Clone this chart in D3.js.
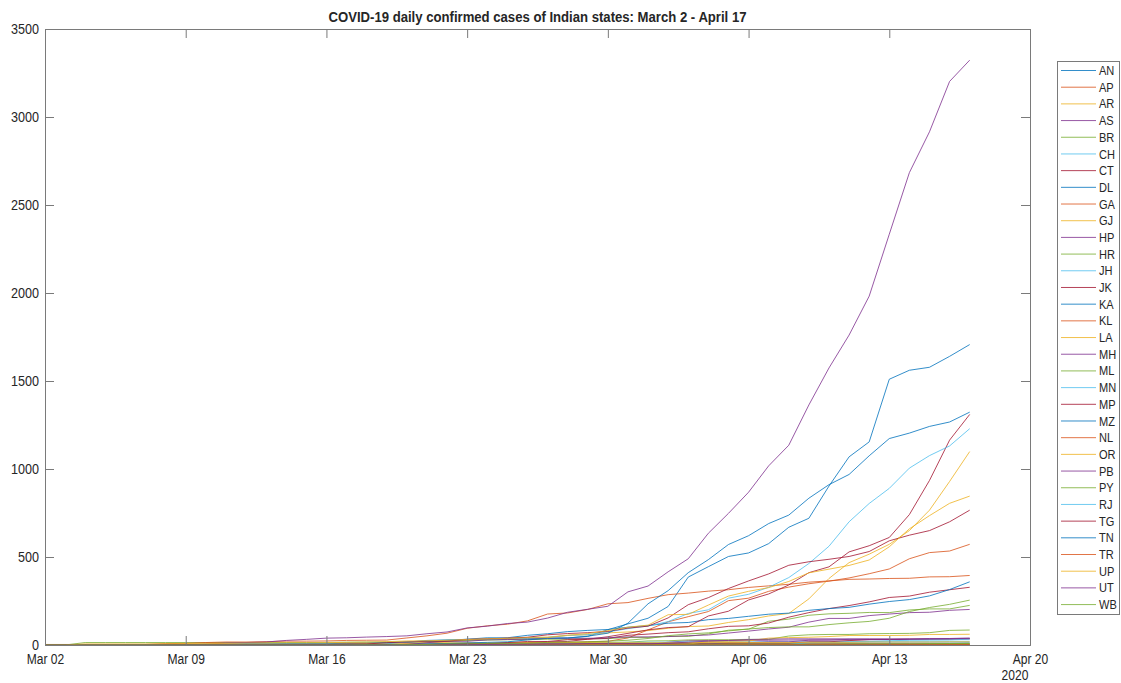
<!DOCTYPE html>
<html><head><meta charset="utf-8">
<script src="https://cdn.jsdelivr.net/npm/d3@7"></script>
<style>
html,body{margin:0;padding:0;background:#fff;}
svg{display:block;}
text{font-family:"Liberation Sans Narrow","Arial Narrow","Liberation Sans",Arial,sans-serif;fill:#262626;}
</style></head><body>
<svg id="chart" width="1121" height="683"></svg>
<script>
// ---- data (cumulative confirmed cases, Mar 2 – Apr 17, 2020) ----
const startDate = "2020-03-02", endDate = "2020-04-17";
const states = ["AN","AP","AR","AS","BR","CH","CT","DL","GA","GJ","HP","HR","JH","JK","KA","KL","LA","MH","ML","MN","MP","MZ","NL","OR","PB","PY","RJ","TG","TN","TR","UP","UT","WB"];
const yTicks = [0,500,1000,1500,2000,2500,3000,3500];
const AN = [0,0,0,0,0,0,0, 0,0,0,0,0,0,0, 0,0,0,0,0,0,0, 0,0,0,1,6,9,9, 10,10,10,10,10,10,10, 10,10,10,11,11,11,11, 11,11,11,11,12];
const AP = [0,0,0,0,0,0,0, 0,0,0,1,1,1,1, 1,1,1,2,3,3,5, 7,8,9,11,13,14,19, 21,40,86,132,161,190,252, 266,305,329,348,363,381,405, 432,490,525,534,572];
const AR = [0,0,0,0,0,0,0, 0,0,0,0,0,0,0, 0,0,0,0,0,0,0, 0,0,0,0,0,0,0, 0,0,0,1,1,1,1, 1,1,1,1,1,1,1, 1,1,1,1,1];
const AS = [0,0,0,0,0,0,0, 0,0,0,0,0,0,0, 0,0,0,0,0,0,0, 0,0,0,0,0,0,0, 0,1,1,16,24,26,26, 26,27,28,29,29,29,30, 31,32,33,34,35];
const BR = [0,0,0,0,0,0,0, 0,0,0,0,0,0,0, 0,0,0,0,0,0,2, 2,3,4,6,9,11,15, 15,16,23,24,29,30,30, 32,32,51,58,60,60,64, 65,66,70,83,85];
const CH = [0,0,0,0,0,0,0, 0,0,0,0,0,0,0, 0,0,0,1,1,5,6, 7,7,7,7,8,8,8, 13,15,16,16,18,18,18, 18,18,18,18,19,19,21, 21,21,21,21,21];
const CT = [0,0,0,0,0,0,0, 0,0,0,0,0,0,0, 0,0,1,1,1,1,1, 1,1,1,6,6,6,7, 8,9,9,9,10,10,10, 10,10,10,18,18,25,31, 31,33,33,33,36];
const DL = [1,1,1,2,3,3,3, 4,4,5,6,6,7,7, 7,8,10,12,17,26,29, 30,31,35,36,39,40,49, 87,120,152,219,386,445,503, 523,576,669,720,903,1069,1154, 1510,1561,1578,1640,1707];
const GA = [0,0,0,0,0,0,0, 0,0,0,0,0,0,0, 0,0,0,0,0,0,0, 0,0,3,3,3,3,5, 5,5,5,5,6,7,7, 7,7,7,7,7,7,7, 7,7,7,7,7];
const GJ = [0,0,0,0,0,0,0, 0,0,0,0,0,0,0, 0,0,0,2,5,14,18, 29,33,38,43,45,55,58, 69,74,82,95,105,108,128, 144,165,179,262,378,468,516, 572,650,766,929,1099];
const HP = [0,0,0,0,0,0,0, 0,0,0,0,0,0,0, 0,0,0,0,2,2,2, 2,3,3,3,3,3,3, 3,3,3,6,6,6,13, 13,18,18,27,28,32,32, 32,32,33,35,36];
const HR = [0,0,14,14,14,14,14, 14,14,14,14,14,14,14, 15,16,17,17,17,19,21, 26,28,30,30,33,33,36, 36,43,43,49,49,63,84, 90,135,147,169,177,180,185, 184,199,205,205,225];
const JH = [0,0,0,0,0,0,0, 0,0,0,0,0,0,0, 0,0,0,0,0,0,0, 0,0,0,0,0,0,0, 0,1,1,2,2,3,3, 4,4,4,13,14,17,19, 24,27,28,29,33];
const JK = [0,0,0,0,0,0,0, 1,1,1,1,2,2,3, 3,3,3,4,4,4,4, 7,7,11,13,18,20,33, 38,55,62,70,75,92,106, 109,125,158,184,207,224,245, 270,278,300,314,328];
const KA = [0,0,0,0,0,0,0, 1,4,4,6,6,6,6, 7,11,11,15,15,20,26, 33,41,41,55,64,76,83, 88,101,110,124,128,144,151, 163,175,181,197,207,214,232, 247,258,279,315,359];
const KL = [3,3,3,3,3,3,8, 9,14,17,17,19,22,22, 23,26,27,28,40,52,67, 95,109,118,137,176,182,202, 234,241,265,286,295,306,314, 327,336,345,357,364,373,375, 378,379,387,388,395];
const LA = [0,0,0,0,0,2,2, 2,2,3,3,3,3,3, 4,6,8,8,10,13,13, 13,13,13,13,13,13,13, 13,13,13,13,14,14,14, 14,14,14,15,15,15,17, 17,17,17,18,18];
const MH = [0,0,0,0,0,0,0, 2,5,11,14,17,26,32, 39,41,45,48,52,64,74, 97,107,122,130,153,186,203, 220,302,335,416,490,635,748, 868,1018,1135,1364,1574,1761,1982, 2334,2684,2916,3202,3323];
const ML = [0,0,0,0,0,0,0, 0,0,0,0,0,0,0, 0,0,0,0,0,0,0, 0,0,0,0,0,0,0, 0,0,0,0,0,0,0, 0,0,0,0,0,0,0, 1,1,7,8,9];
const MN = [0,0,0,0,0,0,0, 0,0,0,0,0,0,0, 0,0,0,0,0,0,0, 0,1,1,1,1,1,1, 1,1,1,2,2,2,2, 2,2,2,2,2,2,2, 2,2,2,2,2];
const MP = [0,0,0,0,0,0,0, 0,0,0,0,0,0,0, 0,0,0,0,4,4,6, 7,7,14,20,20,30,33, 47,66,86,99,104,165,192, 256,290,341,411,444,529,564, 611,741,935,1164,1310];
const MZ = [0,0,0,0,0,0,0, 0,0,0,0,0,0,0, 0,0,0,0,0,0,0, 0,0,1,1,1,1,1, 1,1,1,1,1,1,1, 1,1,1,1,1,1,1, 1,1,1,1,1];
const NL = [0,0,0,0,0,0,0, 0,0,0,0,0,0,0, 0,0,0,0,0,0,0, 0,0,0,0,0,0,0, 0,0,0,0,0,0,0, 0,0,0,0,0,0,0, 1,1,1,1,1];
const OR = [0,0,0,0,0,0,0, 0,0,0,0,0,0,0, 0,0,0,1,2,2,2, 2,2,2,2,3,3,3, 3,3,4,4,5,20,21, 23,39,42,44,48,54,54, 54,55,60,60,61];
const PB = [0,0,0,0,0,0,0, 1,1,1,1,1,1,1, 1,1,1,2,2,13,21, 21,29,31,33,38,38,38, 41,46,46,48,53,57,68, 79,91,101,130,151,151,167, 176,184,186,197,202];
const PY = [0,0,0,0,0,0,0, 0,0,0,0,0,0,0, 0,0,1,1,1,1,1, 1,1,1,1,1,1,1, 1,1,3,3,5,5,5, 5,5,5,5,5,7,7, 7,7,7,7,7];
const RJ = [0,0,0,0,0,0,0, 0,0,0,0,0,0,2, 4,4,4,7,17,23,28, 32,33,38,40,43,54,59, 74,93,108,133,179,200,266, 288,328,383,463,561,700,804, 890,1005,1076,1131,1229];
const TG = [1,1,1,1,1,1,1, 1,1,1,1,1,1,3, 3,5,6,13,17,21,22, 32,35,39,44,58,65,70, 77,96,107,154,229,269,321, 364,404,453,473,487,503,531, 592,624,650,700,766];
const TN = [0,0,0,0,0,1,1, 1,1,1,1,1,1,1, 1,1,2,3,3,6,9, 12,15,18,29,38,40,50, 67,124,234,309,411,485,571, 621,690,738,834,911,969,1075, 1173,1204,1242,1267,1323];
const TR = [0,0,0,0,0,0,0, 0,0,0,0,0,0,0, 0,0,0,0,0,0,0, 0,0,0,0,0,0,0, 0,0,0,0,0,0,0, 1,1,1,1,1,1,1, 1,1,1,2,2];
const UP = [0,0,6,6,6,6,7, 8,8,9,11,11,12,12, 13,15,16,19,23,24,27, 31,35,38,41,42,55,65, 82,101,113,172,174,227,278, 305,326,361,410,431,452,483, 558,660,735,805,846];
const UT = [0,0,0,0,0,0,0, 0,0,0,0,0,0,1, 1,1,1,3,3,3,3, 3,3,4,4,5,5,7, 7,7,7,10,16,22,26, 31,33,35,35,35,35,35, 35,35,37,37,40];
const WB = [0,0,0,0,0,0,0, 0,0,0,0,0,0,0, 0,0,1,1,2,3,7, 7,9,9,10,15,17,18, 22,27,37,53,63,69,80, 91,99,103,103,116,126,134, 152,190,213,231,255];
const seriesValues = [AN,AP,AR,AS,BR,CH,CT,DL,GA,GJ,HP,HR,JH,JK,KA,KL,LA,MH,ML,MN,MP,MZ,NL,OR,PB,PY,RJ,TG,TN,TR,UP,UT,WB];
const palette = ["#0072BD","#D95319","#EDB120","#7E2F8E","#77AC30","#4DBEEE","#A2142F"];

// ---- layout ----
const svg = d3.select("#chart");
const L = 45, R = 1030, T = 29, B = 645;
const dates = d3.utcDay.range(new Date(startDate+"T00:00:00Z"), d3.utcDay.offset(new Date(endDate+"T00:00:00Z"),1));
const x = d3.scaleUtc().domain([new Date("2020-03-02T00:00:00Z"), new Date("2020-04-20T00:00:00Z")]).range([L, R]);
const y = d3.scaleLinear().domain([0,3500]).range([B, T]);
const xTickVals = d3.utcDay.range(x.domain()[0], d3.utcDay.offset(x.domain()[1],1), 7);
const axisColor = "#7a7a7a";

// squeeze text horizontally (reference uses a condensed rendering)
function narrow(sel, f){
  sel.each(function(){
    const w = this.getComputedTextLength();
    if (w > 0) d3.select(this).attr("textLength", w*f).attr("lengthAdjust","spacingAndGlyphs");
  });
}

// title
const title = svg.append("text").attr("x",(L+R)/2).attr("y",22).attr("text-anchor","middle")
  .style("font-size","14px").style("font-weight","bold").text("COVID-19 daily confirmed cases of Indian states: March 2 - April 17");
title.attr("textLength",418).attr("lengthAdjust","spacingAndGlyphs");

// lines
const line = d3.line().x((d,i)=>x(dates[i])).y(d=>y(d));
const gL = svg.append("g");
seriesValues.forEach((vals,k)=>{
  gL.append("path").datum(vals).attr("d",line).attr("fill","none")
    .attr("stroke",palette[k%7]).attr("stroke-width",1).attr("stroke-opacity",0.8);
});

// axes
const fmt = d3.utcFormat("%b %d");
const gx = svg.append("g").attr("transform",`translate(0,${B})`)
  .call(d3.axisBottom(x).tickValues(xTickVals).tickFormat(fmt).tickSize(-9).tickPadding(9));
const gxt = svg.append("g").attr("transform",`translate(0,${T})`)
  .call(d3.axisTop(x).tickValues(xTickVals).tickFormat("").tickSize(-9));
const gy = svg.append("g").attr("transform",`translate(${L},0)`)
  .call(d3.axisLeft(y).tickValues(yTicks).tickFormat(d3.format("d")).tickSize(-9).tickPadding(6));
const gyr = svg.append("g").attr("transform",`translate(${R},0)`)
  .call(d3.axisRight(y).tickValues(yTicks).tickFormat("").tickSize(-9));
[gx,gxt,gy,gyr].forEach(g=>{
  g.selectAll(".domain").attr("stroke",axisColor);
  g.selectAll(".tick line").attr("stroke",axisColor);
  g.selectAll("text").style("font-size","14px").attr("fill","#262626")
    .style("font-family",'"Liberation Sans Narrow","Arial Narrow","Liberation Sans",Arial,sans-serif');
});
narrow(gx.selectAll("text"), 0.86);
narrow(gy.selectAll("text"), 0.9);
const yr = svg.append("text").attr("x",1015).attr("y",680).attr("text-anchor","middle")
  .style("font-size","14px").text("2020");
narrow(yr, 0.86);

// legend
const lg = svg.append("g");
lg.append("rect").attr("x",1057.5).attr("y",61.5).attr("width",62).attr("height",553)
  .attr("fill","#fff").attr("stroke",axisColor);
states.forEach((s,k)=>{
  const yy = 70.5 + k*16.69;
  lg.append("line").attr("x1",1061).attr("x2",1096).attr("y1",yy).attr("y2",yy)
    .attr("stroke",palette[k%7]).attr("stroke-width",1).attr("stroke-opacity",0.8);
  const t = lg.append("text").attr("x",1099).attr("y",yy).attr("dy","0.35em")
    .style("font-size","13px").text(s);
  narrow(t, 0.85);
});
</script>
</body></html>
